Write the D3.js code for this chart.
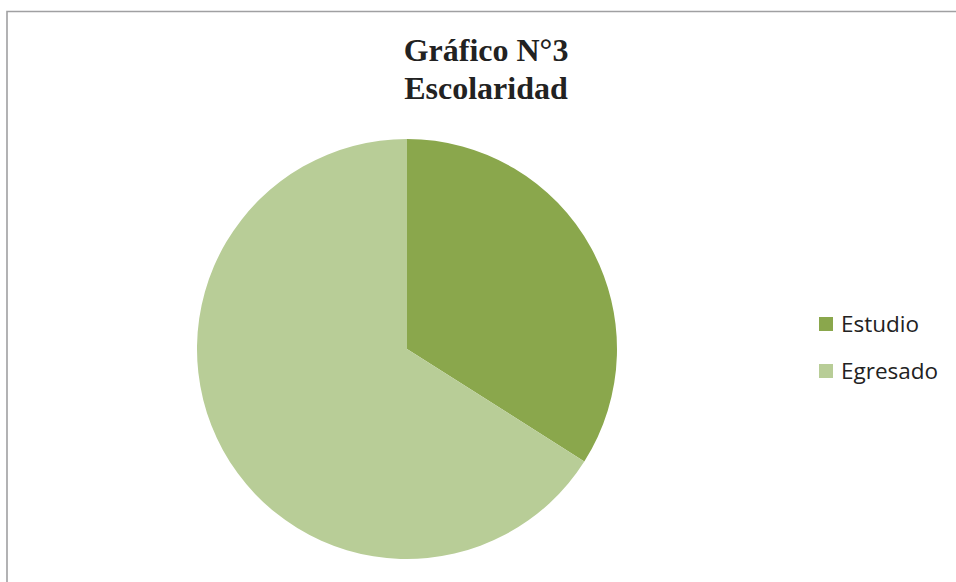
<!DOCTYPE html>
<html>
<head>
<meta charset="utf-8">
<script src="https://cdnjs.cloudflare.com/ajax/libs/d3/7.8.5/d3.min.js"></script>
<style>
  body { margin: 0; background: #fff; }
</style>
</head>
<body>
<div class="canvas"></div>
<script>
var categories = ['Estudio', 'Egresado'];
var values = [34, 66];
var colors = ['#8aa74c', '#b8cd97'];
var titleLines = ['Gráfico N°3', 'Escolaridad'];

var width = 956, height = 582;

var svg = d3.select('.canvas')
  .append('svg')
    .attr('width', width)
    .attr('height', height);

// frame (only top and left edge visible)
svg.append('path')
  .attr('d', 'M7,582 L7,11.5 L956,11.5')
  .attr('fill', 'none')
  .attr('stroke', '#a0a0a2')
  .attr('stroke-width', 1.6);

svg.append('text')
  .attr('x', 486).attr('y', 61)
  .attr('text-anchor', 'middle')
  .attr('font-family', 'Liberation Serif, Times New Roman, serif')
  .attr('font-weight', 'bold')
  .attr('font-size', 32)
  .attr('fill', '#222')
  .selectAll('tspan')
  .data(titleLines)
  .enter().append('tspan')
    .attr('x', 486)
    .attr('dy', function(d, i){ return i ? 38 : 0; })
    .text(function(d){ return d; });

var cx = 407, cy = 349, r = 210;

var pie = d3.pie().sort(null).value(function(d){ return d; });
var arc = d3.arc().innerRadius(0).outerRadius(r);
var color = d3.scaleOrdinal().domain(categories).range(colors);

svg.append('g')
  .attr('transform', 'translate(' + cx + ',' + cy + ')')
  .selectAll('path')
  .data(pie(values))
  .enter().append('path')
    .attr('d', arc)
    .attr('fill', function(d, i){ return color(categories[i]); });

var legend = svg.append('g')
  .selectAll('g')
  .data(categories)
  .enter().append('g')
    .attr('transform', function(d, i){ return 'translate(819,' + (317 + i * 47) + ')'; });

legend.append('rect')
  .attr('width', 14).attr('height', 14)
  .attr('fill', function(d){ return color(d); });

legend.append('text')
  .attr('x', 22).attr('y', 15)
  .attr('font-family', 'Open Sans, Noto Sans, sans-serif')
  .attr('font-size', 22.5)
  .attr('fill', '#222')
  .text(function(d){ return d; });
</script>
</body>
</html>
